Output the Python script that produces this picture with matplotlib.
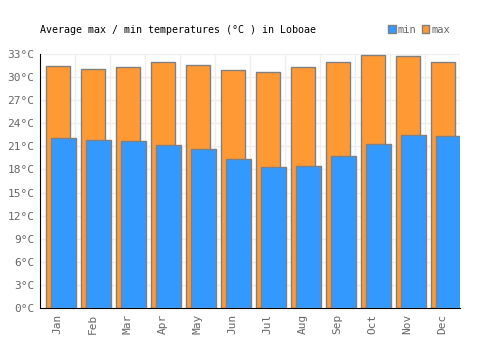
import numpy as np
import matplotlib
matplotlib.use("Agg")
import matplotlib.pyplot as plt
from matplotlib.patches import Patch

months = ['Jan', 'Feb', 'Mar', 'Apr', 'May', 'Jun', 'Jul', 'Aug', 'Sep', 'Oct', 'Nov', 'Dec']
t_max = [31.4, 31.0, 31.3, 32.0, 31.6, 30.9, 30.6, 31.3, 32.0, 32.9, 32.7, 31.9]
t_min = [22.1, 21.8, 21.7, 21.2, 20.7, 19.4, 18.3, 18.4, 19.7, 21.3, 22.5, 22.3]
y_ticks = [0, 3, 6, 9, 12, 15, 18, 21, 24, 27, 30, 33]

orange = '#FF9933'
blue = '#3399FF'
edge = '#808080'
txt = '#666666'

plt.rcParams['font.family'] = ['DejaVu Sans Mono', 'DejaVu Sans']

fig = plt.figure(figsize=(5, 3.5), dpi=100)
ax = fig.add_axes([0.08, 0.12, 0.84, 0.7257])

x = np.arange(len(months))
# max bars sit a bit left, min bars drawn on top shifted right
ax.bar(x - 0.33, t_max, width=0.69, align='edge', color=orange, edgecolor=edge, linewidth=1, zorder=2)
ax.bar(x - 0.19, t_min, width=0.71, align='edge', color=blue, edgecolor=edge, linewidth=1, zorder=3)

ax.set_xlim(-0.5, 11.5)
ax.set_ylim(0, 33)
ax.set_yticks(y_ticks)
ax.set_yticklabels([f'{t}°C' for t in y_ticks], fontsize=8, color=txt)
ax.set_xticks(x)
ax.set_xticklabels(months, rotation=90, fontsize=8, color=txt)
ax.tick_params(length=0, pad=4)

# grid lines
for gx in np.arange(0.5, 12, 1):
    ax.axvline(gx, color='#eeeeee', linewidth=1, zorder=0)
for gy in y_ticks[1:]:
    ax.axhline(gy, color='#eeeeee', linewidth=1, zorder=0)

for s in ['top', 'right']:
    ax.spines[s].set_visible(False)
ax.spines['left'].set_color('black')
ax.spines['bottom'].set_color('black')

fig.text(0.08, 0.915, 'Average max / min temperatures (°C ) in Loboae', fontsize=7.2, color='black', va='center')

handles = [Patch(facecolor=blue, edgecolor=edge, label='min'),
           Patch(facecolor=orange, edgecolor=edge, label='max')]
leg = fig.legend(handles=handles, loc='center right', bbox_to_anchor=(0.91, 0.915), ncol=2,
                 frameon=False, fontsize=7.5, handlelength=0.7, handleheight=0.7,
                 handletextpad=0.2, columnspacing=0.5, borderpad=0)
for t in leg.get_texts():
    t.set_color(txt)

fig.savefig('out.png', dpi=100)
